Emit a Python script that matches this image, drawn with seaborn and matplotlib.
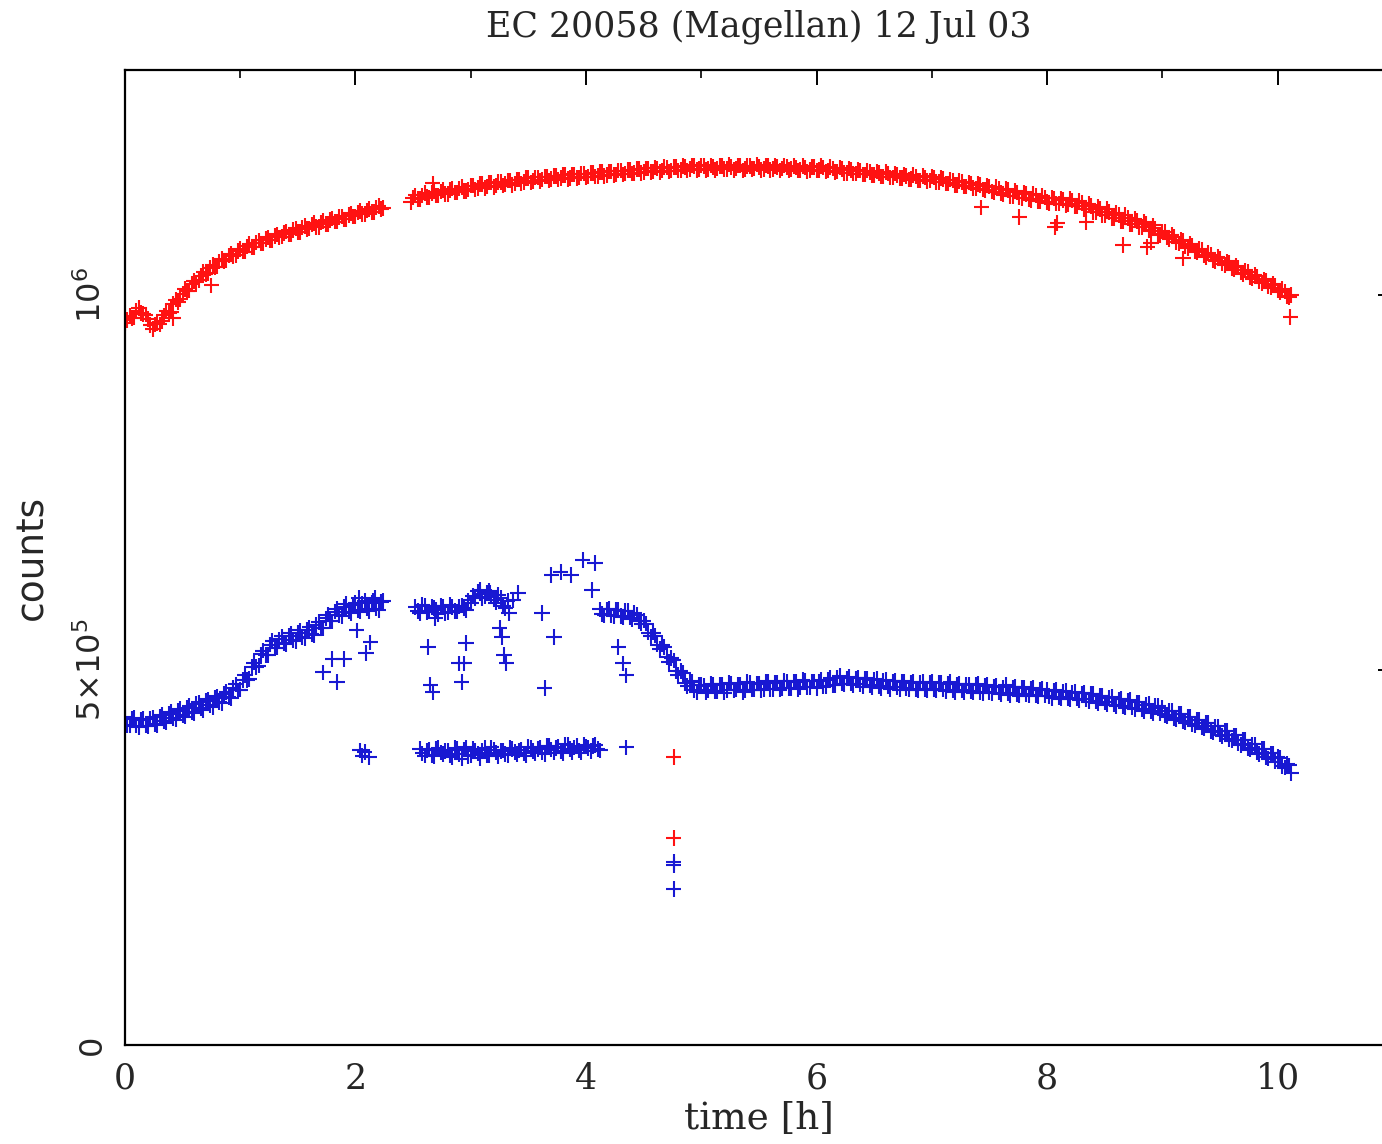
import numpy as np
import pandas as pd
import matplotlib
matplotlib.use("Agg")
import matplotlib.pyplot as plt
from matplotlib.ticker import MultipleLocator, FixedLocator
import seaborn as sns

# ---------------- data (counts in units of 1000) ----------------
# Each segment: (start time h, end time h) and the values read at even spacing.
# red star, segment 1, t = 0.00 .. 2.24 h
red1_t = (0.00, 2.24)
red1_k = [963, 972, 970, 983, 975, 968, 955, 963, 965, 979,
          978, 994, 995, 1008, 1006, 1019, 1020, 1031, 1029, 1040,
          1038, 1048, 1046, 1055, 1053, 1062, 1058, 1068, 1064, 1073,
          1069, 1077, 1073, 1081, 1078, 1085, 1081, 1089, 1084, 1092,
          1089, 1096, 1091, 1099, 1095, 1102, 1098, 1105, 1101, 1109,
          1105, 1112, 1108, 1115, 1111, 1119, 1116]
# red star, segment 1 (interleaved samples), t = 0.02 .. 2.22 h
red1b_t = (0.02, 2.22)
red1b_k = [967, 969, 979, 976, 974, 960, 961, 961, 973, 976,
           988, 991, 1002, 1005, 1015, 1017, 1026, 1028, 1036, 1037,
           1045, 1045, 1053, 1052, 1059, 1058, 1065, 1064, 1070, 1069,
           1075, 1073, 1079, 1077, 1083, 1081, 1087, 1084, 1090, 1088,
           1094, 1091, 1097, 1095, 1100, 1098, 1104, 1101, 1107, 1105,
           1110, 1108, 1113, 1111, 1117, 1115]
# red star, segment 2, t = 2.48 .. 10.12 h
red2_t = (2.48, 10.12)
red2_k = [1124, 1133, 1128, 1136, 1130, 1138, 1133, 1140, 1135, 1142, 1137, 1144, 1139,
          1146, 1141, 1148, 1143, 1150, 1144, 1151, 1146, 1153, 1147, 1154, 1149, 1156,
          1150, 1157, 1152, 1158, 1153, 1159, 1154, 1160, 1155, 1161, 1156, 1162,
          1157, 1163, 1158, 1164, 1159, 1165, 1160, 1166, 1161, 1167, 1162, 1168, 1163,
          1169, 1164, 1170, 1164, 1171, 1165, 1171, 1166, 1172, 1166, 1173, 1167,
          1173, 1167, 1173, 1167, 1172, 1168, 1174, 1167, 1173, 1166, 1172, 1168, 1174,
          1167, 1173, 1167, 1172, 1166, 1173, 1167, 1172, 1166, 1172, 1165, 1171,
          1166, 1172, 1165, 1171, 1164, 1170, 1163, 1169, 1162, 1167, 1161, 1166, 1160,
          1165, 1158, 1164, 1157, 1162, 1156, 1161, 1154, 1160, 1153, 1159, 1152,
          1158, 1151, 1156, 1149, 1154, 1147, 1152, 1145, 1150, 1143, 1148, 1141, 1146,
          1138, 1144, 1136, 1142, 1132, 1139, 1130, 1137, 1128, 1135, 1125, 1132,
          1124, 1130, 1122, 1129, 1120, 1128, 1119, 1126, 1115, 1122, 1111, 1118, 1107,
          1115, 1103, 1110, 1099, 1107, 1095, 1102, 1091, 1098, 1087, 1093, 1081,
          1085, 1077, 1080, 1071, 1074, 1065, 1068, 1059, 1062, 1053, 1056, 1047, 1051,
          1042, 1045, 1036, 1039, 1030, 1033, 1024, 1027, 1018, 1021, 1012, 1015,
          1006, 1008, 999, 1000]
# red star, segment 2 (interleaved samples), t = 2.50 .. 10.10 h
red2b_t = (2.50, 10.10)
red2b_k = [1130, 1128, 1133, 1131, 1136, 1133, 1138, 1135, 1140, 1137, 1142, 1139,
           1141, 1146, 1143, 1148, 1145, 1150, 1146, 1151, 1148, 1153, 1149, 1154, 1151,
           1156, 1152, 1157, 1154, 1158, 1155, 1159, 1156, 1160, 1156, 1161, 1157,
           1162, 1158, 1163, 1159, 1164, 1160, 1165, 1161, 1166, 1162, 1167, 1163, 1168,
           1164, 1169, 1165, 1169, 1166, 1170, 1166, 1171, 1167, 1171, 1168, 1172,
           1168, 1172, 1168, 1171, 1169, 1172, 1168, 1171, 1169, 1173, 1168, 1172, 1169,
           1171, 1168, 1172, 1168, 1171, 1169, 1171, 1168, 1170, 1167, 1170, 1167,
           1171, 1167, 1170, 1166, 1169, 1165, 1168, 1163, 1167, 1162, 1166, 1161, 1164,
           1160, 1163, 1158, 1162, 1157, 1160, 1156, 1159, 1155, 1158, 1153, 1157,
           1153, 1157, 1151, 1155, 1149, 1153, 1147, 1151, 1145, 1149, 1142, 1147, 1140,
           1145, 1137, 1142, 1134, 1140, 1132, 1137, 1129, 1135, 1127, 1133, 1125,
           1130, 1123, 1129, 1122, 1127, 1121, 1126, 1119, 1123, 1115, 1119, 1111, 1115,
           1107, 1111, 1103, 1107, 1099, 1103, 1095, 1099, 1091, 1095, 1086, 1089,
           1080, 1084, 1075, 1078, 1069, 1072, 1063, 1066, 1057, 1060, 1051, 1054, 1045,
           1049, 1040, 1043, 1034, 1037, 1028, 1031, 1022, 1025, 1016, 1019, 1010,
           1013, 1004, 1005, 997]
# red isolated points (time h, counts k)
red_out_t = [0.42, 0.75, 2.67, 7.43, 7.76, 8.07, 8.09, 8.34, 8.66, 8.87, 8.90, 9.18, 10.11, 4.76, 4.76]
red_out_k = [969, 1013, 1149, 1117, 1104, 1091, 1096, 1097, 1067, 1064, 1070, 1049, 971, 384, 276]

# blue star, segment 1, t = 0.00 .. 2.24 h
blue1_t = (0.00, 2.24)
blue1_k = [437, 426, 436, 424, 435, 425, 437, 427, 440, 430,
           444, 434, 448, 438, 452, 443, 457, 447, 461, 451,
           465, 456, 471, 463, 481, 474, 493, 488, 510, 506,
           526, 520, 539, 530, 545, 535, 549, 539, 553, 543,
           557, 547, 564, 556, 574, 565, 582, 572, 588, 576,
           590, 578, 592, 579, 593, 580, 592]
# blue star, segment 1 (interleaved samples), t = 0.02 .. 2.22 h
blue1b_t = (0.02, 2.22)
blue1b_k = [427, 435, 426, 434, 426, 435, 428, 438, 432, 442,
            436, 446, 440, 450, 444, 455, 449, 459, 453, 463,
            457, 468, 464, 476, 473, 487, 487, 504, 504, 521,
            520, 534, 530, 541, 536, 546, 540, 550, 544, 554,
            548, 560, 556, 569, 566, 578, 573, 584, 578, 587,
            580, 589, 582, 590, 582, 591]
# blue upper branch in the gap, t = 2.52 .. 3.32 h and 2.54 .. 3.30 h
blue2_t = (2.52, 3.32)
blue2_k = [584, 576, 586, 578, 583, 575, 585, 577, 584, 578, 586,
           580, 590, 596, 602, 598, 606, 594, 600, 585, 592]
blue2b_t = (2.54, 3.30)
blue2b_k = [579, 587, 577, 585, 580, 586, 576, 587, 579, 585,
            583, 593, 599, 605, 596, 603, 598, 590, 596, 583]
# blue lower branch in the gap, t = 2.56 .. 4.12 h and 2.58 .. 4.10 h
blue3_t = (2.56, 4.12)
blue3_k = [395, 386, 394, 385, 396, 388, 393, 384, 395, 382,
           397, 387, 392, 383, 396, 386, 394, 385, 393, 387,
           395, 388, 394, 386, 396, 389, 397, 388, 399, 390,
           398, 389, 400, 391, 399, 390, 398, 392, 400, 393]
blue3b_t = (2.58, 4.10)
blue3b_k = [389, 393, 387, 395, 390, 392, 386, 396, 388, 394,
            385, 395, 389, 393, 387, 397, 390, 392, 388, 396,
            391, 393, 389, 398, 392, 395, 390, 399, 394, 396,
            392, 401, 395, 397, 393, 400, 396, 399, 395]
# blue star, segment 4, t = 4.12 .. 10.12 h
blue4_t = (4.12, 10.12)
blue4_k = [581, 573, 582, 572, 580, 571, 579, 568, 574, 562, 562, 545, 546, 528,
           531, 511, 513, 494, 496, 479, 484, 471, 480,
           470, 482, 472, 481, 470, 483, 473, 481, 471, 484, 474, 482,
           473, 485, 475, 483, 474, 486, 476, 484, 475, 487, 477, 485,
           476, 487, 479, 490, 480, 492, 481, 491, 480, 490, 478, 489, 477,
           488, 476, 487, 475, 486, 474, 485, 474, 484, 473, 484, 473,
           484, 473, 483, 472, 484, 471, 482, 471, 481, 470, 482, 469, 480,
           469, 479, 468, 480, 467, 478, 466, 477, 466, 476, 465, 475,
           474, 463, 474, 462, 472, 461, 471, 460, 470, 458, 468, 456, 466,
           454, 464, 452, 462, 450, 460, 448, 457, 445, 455, 443, 452,
           450, 438, 446, 434, 442, 430, 438, 426, 434, 422, 430, 417, 425,
           412, 419, 406, 413, 400, 407, 394, 401, 388, 395, 382, 389,
           384, 372, 375, 363]
# blue star, segment 4 (interleaved samples), t = 4.14 .. 10.10 h
blue4b_t = (4.14, 10.10)
blue4b_k = [575, 581, 573, 580, 572, 579, 570, 576, 565, 566, 550, 550, 534, 534,
            517, 516, 499, 499, 483, 485, 473, 480,
            479, 473, 480, 472, 481, 473, 482, 474, 481, 473, 483, 474, 482,
            475, 484, 475, 483, 476, 485, 476, 484, 477, 486, 477, 485,
            485, 478, 487, 480, 490, 482, 489, 482, 489, 481, 488, 480, 487,
            479, 486, 478, 485, 477, 484, 476, 483, 475, 483, 475, 483,
            475, 483, 474, 482, 473, 481, 473, 480, 472, 480, 471, 479, 471,
            478, 470, 477, 469, 477, 468, 476, 468, 475, 467, 474, 466,
            465, 472, 464, 471, 463, 470, 462, 469, 461, 468, 459, 466, 457,
            463, 454, 461, 452, 459, 450, 457, 448, 454, 445, 452, 442,
            440, 446, 436, 442, 432, 438, 428, 434, 424, 430, 419, 425, 414,
            419, 408, 413, 402, 407, 396, 401, 390, 395, 384, 389, 378,
            383, 370, 373]
# blue isolated points
blue_out_t = [1.72, 1.80, 1.90, 1.84, 2.01, 2.03, 2.09, 2.13, 2.15, 2.17,
              2.04, 2.06, 2.08, 2.12,
              2.63, 2.65, 2.67, 2.69, 2.90, 2.92, 2.96, 2.94, 3.08, 3.17,
              3.25, 3.27, 3.29, 3.31, 3.33, 3.37, 3.41, 3.62, 3.64, 3.72,
              3.70, 3.78, 3.87, 3.97, 4.08, 4.05, 4.28, 4.32, 4.35, 4.35,
              4.76, 4.76, 4.76]
blue_out_k = [497, 515, 515, 484, 553, 596, 523, 537, 593, 596,
              393, 386, 391, 384,
              531, 480, 471, 569, 509, 484, 536, 509, 607, 603,
              556, 544, 520, 509, 576, 593, 603, 576, 476, 544,
              627, 631, 627, 647, 643, 607, 531, 509, 493, 397,
              244, 240, 208]

title = "EC 20058 (Magellan) 12 Jul 03"
x_label = "time [h]"
y_label = "counts"
x_ticks = [0, 2, 4, 6, 8, 10]
y_ticks = [0, 5e5, 1e6]
y_ticklabels = ["0", r"$5{\times}10^5$", r"$10^6$"]

# ---------------- assemble ----------------
def seg(tr, vals):
    return np.linspace(tr[0], tr[1], len(vals)), np.array(vals, float) * 1e3

red_parts = [seg(red1_t, red1_k), seg(red1b_t, red1b_k),
             seg(red2_t, red2_k), seg(red2b_t, red2b_k),
             (np.array(red_out_t), np.array(red_out_k) * 1e3)]
blue_parts = [seg(blue1_t, blue1_k), seg(blue1b_t, blue1b_k),
              seg(blue2_t, blue2_k), seg(blue2b_t, blue2b_k),
              seg(blue3_t, blue3_k), seg(blue3b_t, blue3b_k),
              seg(blue4_t, blue4_k), seg(blue4b_t, blue4b_k),
              (np.array(blue_out_t), np.array(blue_out_k) * 1e3)]

frames = []
for name, parts in [("red", red_parts), ("blue", blue_parts)]:
    for t, c in parts:
        frames.append(pd.DataFrame({"t": t, "counts": c, "star": name}))
df = pd.concat(frames, ignore_index=True)

# ---------------- plot ----------------
sns.set_theme(style="white")
plt.rcParams["font.family"] = ["DejaVu Sans"]
plt.rcParams["mathtext.fontset"] = "dejavusans"

fig = plt.figure(figsize=(13.82, 11.44), dpi=100)
ax = fig.add_axes([0.0904, 0.0865, 0.9175, 0.8523])

sns.scatterplot(data=df, x="t", y="counts", hue="star",
                palette={"red": "#ff1212", "blue": "#1818d2"},
                marker="+", s=125, linewidth=1.5, legend=False, ax=ax)

ax.set_xlim(0, 11.0)
ax.set_ylim(0, 1.3e6)

ax.xaxis.set_major_locator(FixedLocator(x_ticks))
ax.xaxis.set_minor_locator(MultipleLocator(1))
ax.yaxis.set_major_locator(FixedLocator(y_ticks))
ax.yaxis.set_minor_locator(MultipleLocator(1e5))
ax.set_xticklabels([str(v) for v in x_ticks], family="DejaVu Serif", fontsize=25)
ax.set_yticklabels(y_ticklabels, rotation=90, va="center", fontsize=23)

ax.tick_params(axis="both", which="major", direction="in", length=11, width=1.4,
               color="black", top=True, right=True, pad=12)
ax.tick_params(axis="both", which="minor", direction="in", length=6, width=1.2,
               color="black", top=True, right=True)

for side in ["left", "bottom", "top"]:
    ax.spines[side].set_color("black")
    ax.spines[side].set_linewidth(1.6)
ax.spines["right"].set_visible(False)

ax.set_title(title, family="DejaVu Serif", fontsize=25, pad=24)
ax.set_xlabel(x_label, family="DejaVu Serif", fontsize=27, labelpad=4)
ax.set_ylabel(y_label, fontsize=27, labelpad=18)

fig.savefig("out.png", dpi=100)
